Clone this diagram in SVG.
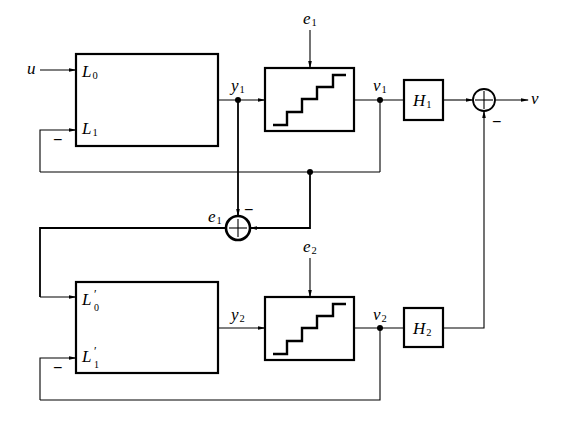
<svg xmlns="http://www.w3.org/2000/svg" width="566" height="422" viewBox="0 0 566 422">
<defs>
<marker id="ah" markerWidth="8" markerHeight="6" refX="7" refY="3" orient="auto" markerUnits="userSpaceOnUse">
<path d="M0,1.2 L8,3 L0,4.8 Z" fill="#000"/>
</marker>
<style>
.box{fill:#fff;stroke:#000;stroke-width:2.2}
.ln{fill:none;stroke:#000;stroke-width:1.1}
.lt{fill:none;stroke:#000;stroke-width:1.8}
.st{fill:none;stroke:#000;stroke-width:2.4}
.t{font-family:"Liberation Serif","Times New Roman",serif;font-style:italic;font-size:17px;fill:#000}
.s{font-family:"Liberation Serif","Times New Roman",serif;font-style:normal;font-size:10.5px;fill:#000}
.s2{font-family:"Liberation Serif","Times New Roman",serif;font-style:normal;font-size:10px;fill:#000}
.p{font-family:"Liberation Serif","Times New Roman",serif;font-style:normal;font-size:12px;fill:#000}
.m{font-family:"Liberation Sans",Arial,sans-serif;font-size:16px;fill:#000}
.dot{fill:#000}
</style>
</defs>
<rect width="566" height="422" fill="#fff"/>
<g id="connectors">
<line class="ln" x1="40" y1="70" x2="76" y2="70" marker-end="url(#ah)"/>
<polyline class="ln" points="40,172 40,130 76,130" marker-end="url(#ah)"/>
<line class="ln" x1="40" y1="172" x2="380" y2="172"/>
<line class="ln" x1="380" y1="172" x2="380" y2="100"/>
<line class="ln" x1="218" y1="100" x2="265" y2="100" marker-end="url(#ah)"/>
<line class="lt" x1="238" y1="100" x2="238" y2="216" marker-end="url(#ah)"/>
<line class="ln" x1="310" y1="30" x2="310" y2="68" marker-end="url(#ah)"/>
<line class="ln" x1="354" y1="100" x2="404" y2="100"/>
<line class="ln" x1="443" y1="100" x2="473" y2="100" marker-end="url(#ah)"/>
<line class="ln" x1="495" y1="100" x2="528" y2="100" marker-end="url(#ah)"/>
<polyline class="lt" points="310,172 310,228 250,228" marker-end="url(#ah)"/>
<polyline class="lt" points="226,228 40,228 40,297"/>
<line class="ln" x1="40" y1="297" x2="76" y2="297" marker-end="url(#ah)"/>
<polyline class="ln" points="40,400 40,358 76,358" marker-end="url(#ah)"/>
<polyline class="ln" points="40,400 380,400 380,328"/>
<line class="ln" x1="218" y1="328" x2="265" y2="328" marker-end="url(#ah)"/>
<line class="ln" x1="310" y1="258" x2="310" y2="297" marker-end="url(#ah)"/>
<line class="ln" x1="354" y1="328" x2="404" y2="328"/>
<polyline class="ln" points="443,328 484,328 484,111" marker-end="url(#ah)"/>
<circle class="dot" cx="238" cy="100" r="3"/>
<circle class="dot" cx="380" cy="100" r="3"/>
<circle class="dot" cx="310" cy="172" r="3"/>
<circle class="dot" cx="380" cy="328" r="3"/>
</g>
<g id="L-block-1">
<rect class="box" x="76" y="54" width="142" height="92"/>
<text class="t" x="82" y="77">L<tspan class="s" dx="1" dy="2">0</tspan></text>
<text class="t" x="82" y="134">L<tspan class="s" dx="1" dy="2">1</tspan></text>
</g>
<g id="L-block-2">
<rect class="box" x="76" y="282" width="142" height="91"/>
<text class="t" x="82" y="305">L</text>
<text class="p" x="94" y="298">′</text>
<text class="s2" x="94" y="311">0</text>
<text class="t" x="82" y="362">L</text>
<text class="p" x="94" y="355">′</text>
<text class="s2" x="94" y="368">1</text>
</g>
<g id="quantizer-1">
<rect class="box" x="265" y="68" width="89" height="63"/>
<polyline class="st" points="273,125 287,125 287,112 302,112 302,99 317,99 317,87 333,87 333,75 346,75"/>
</g>
<g id="quantizer-2">
<rect class="box" x="265" y="297" width="89" height="63"/>
<polyline class="st" points="273,354 287,354 287,341 302,341 302,328 317,328 317,316 333,316 333,304 346,304"/>
</g>
<g id="H1">
<rect class="box" x="404" y="80" width="39" height="40"/>
<text class="t" x="413" y="106">H<tspan class="s" dx="1" dy="2">1</tspan></text>
</g>
<g id="H2">
<rect class="box" x="404" y="308" width="39" height="39"/>
<text class="t" x="413" y="334">H<tspan class="s" dx="1" dy="2">2</tspan></text>
</g>
<g id="sum-1">
<circle cx="484" cy="100" r="11" fill="#fff" stroke="#000" stroke-width="1.8"/>
<line class="ln" x1="484" y1="91" x2="484" y2="109" stroke="#666"/>
<line class="ln" x1="475" y1="100" x2="493" y2="100" stroke="#666"/>
<text class="m" x="492" y="127">−</text>
</g>
<g id="sum-2">
<circle cx="238" cy="228" r="12" fill="#fff" stroke="#000" stroke-width="2.6"/>
<line class="ln" x1="238" y1="219" x2="238" y2="237"/>
<line class="ln" x1="229" y1="228" x2="247" y2="228"/>
<text class="m" x="244" y="215">−</text>
</g>
<g id="labels">
<text class="t" x="27" y="74">u</text>
<text class="m" x="53" y="145">−</text>
<text class="m" x="53" y="373">−</text>
<text class="t" x="231" y="91">y<tspan class="s" dx="1" dy="2">1</tspan></text>
<text class="t" x="373" y="91">v<tspan class="s" dx="1" dy="2">1</tspan></text>
<text class="t" x="303" y="24">e<tspan class="s" dx="1" dy="2">1</tspan></text>
<text class="t" x="531" y="104">v</text>
<text class="t" x="208" y="222">e<tspan class="s" dx="1" dy="2">1</tspan></text>
<text class="t" x="303" y="252">e<tspan class="s" dx="1" dy="2">2</tspan></text>
<text class="t" x="231" y="320">y<tspan class="s" dx="1" dy="2">2</tspan></text>
<text class="t" x="373" y="320">v<tspan class="s" dx="1" dy="2">2</tspan></text>
</g>
</svg>
